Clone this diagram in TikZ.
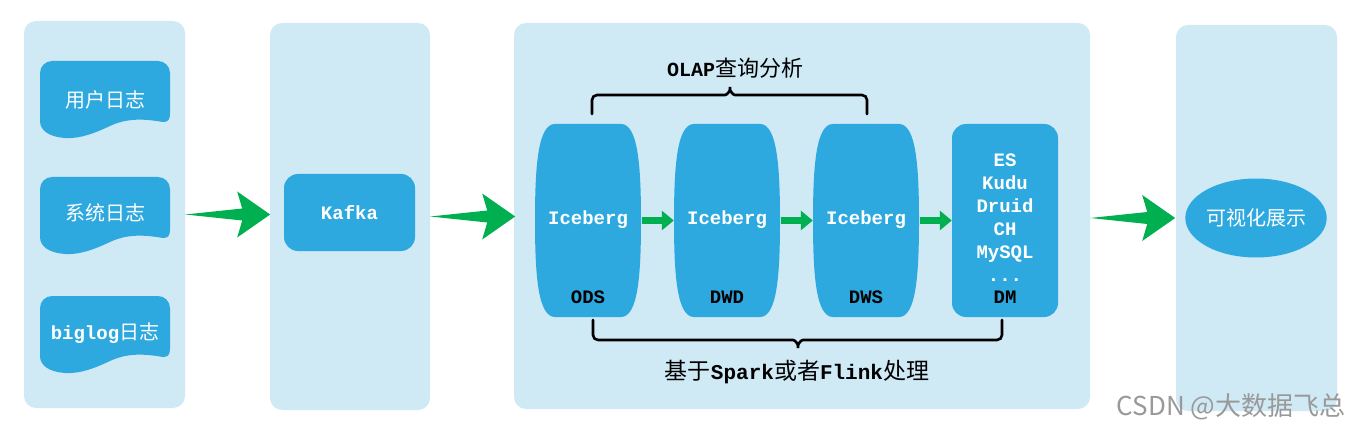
\documentclass[tikz,border=0pt]{standalone}
\usepackage{fontspec}
\usetikzlibrary{shapes.geometric,arrows.meta,calc}
\newfontfamily\cjk{Noto Sans CJK SC}
\newfontfamily\mono{Liberation Mono}
\definecolor{panelbg}{HTML}{CFE9F5}
\definecolor{nodeblue}{HTML}{2EA9E0}
\definecolor{arrgreen}{HTML}{00B050}
\begin{document}
\begin{tikzpicture}[x=1pt,y=1pt,
 panel/.style={rectangle, rounded corners=12pt, fill=panelbg, inner sep=0pt},
 labelw/.style={text=white, font=\mono\bfseries\fontsize{19}{23}\selectfont, inner sep=0pt},
 cjkw/.style={text=white, font=\cjk\fontsize{20}{24}\selectfont, inner sep=0pt},
 layerlab/.style={text=black, font=\mono\bfseries\fontsize{19}{23}\selectfont, inner sep=0pt},
 layer/.style={rectangle, minimum width=106pt, minimum height=193pt, inner sep=0pt},
 smallarr/.style={arrgreen, line width=7pt, -{Triangle[length=12pt,width=19pt]}, shorten <=1pt},
 brace/.style={line width=2.6pt, rounded corners=5pt, line cap=round},
 pics/docshape/.style={code={\fill[nodeblue] (12,0) -- (118,0) arc[start angle=90,end angle=0,radius=12pt] -- (130,-52) .. controls (130,-59) and (128,-61) .. (123,-61) .. controls (100,-57) and (85,-58) .. (70,-65) .. controls (55,-72) and (40,-78) .. (25,-77) .. controls (10,-76) and (0,-70) .. (0,-60) -- (0,-12) arc[start angle=180,end angle=90,radius=12pt] -- cycle;}},
 pics/barrel/.style={code={\fill[nodeblue] (-33,96.5) -- (33,96.5) .. controls (50,96.5) and (53,55) .. (53,0) .. controls (53,-55) and (50,-96.5) .. (33,-96.5) -- (-33,-96.5) .. controls (-50,-96.5) and (-53,-55) .. (-53,0) .. controls (-53,55) and (-50,96.5) .. (-33,96.5) -- cycle;}},
 pics/bigarrow/.style={code={\fill[arrgreen] (0,0) -- (57,6) -- (52,23) -- (85,0) -- (52,-23) -- (57,-6) -- cycle;}},
]
\useasboundingbox (0,0) rectangle (1352,429);
% panels
\node[panel, minimum width=161pt, minimum height=387pt] (p1) at (104.5,214.5) {};
\node[panel, minimum width=160pt, minimum height=387pt] (p2) at (350,212.5) {};
\node[panel, minimum width=576pt, minimum height=386pt] (p3) at (802,213) {};
\node[panel, minimum width=161pt, minimum height=386pt] (p4) at (1256.5,211) {};
% sources
\pic at (40,368) {docshape};
\node[cjkw] (d1) at (105,329) {用户日志};
\pic at (40,252) {docshape};
\node[cjkw] (d2) at (105,216) {系统日志};
\pic at (40,133) {docshape};
\node[text=white, inner sep=0pt] (d3) at (105,96) {{\mono\bfseries\fontsize{19}{23}\selectfont biglog}{\cjk\fontsize{20}{24}\selectfont 日志}};
% kafka
\node[rectangle, rounded corners=14pt, fill=nodeblue, minimum width=131pt, minimum height=77pt, labelw] (kafka) at (349.5,216.5) {Kafka};
% layers
\pic at (588,208.5) {barrel};
\node[layer] (ods) at (588,208.5) {};
\node[labelw] (odsice) at (588,209) {Iceberg};
\node[layerlab] (odslab) at (588,132) {ODS};
\pic at (727,208.5) {barrel};
\node[layer] (dwd) at (727,208.5) {};
\node[labelw] (dwdice) at (727,209) {Iceberg};
\node[layerlab] (dwdlab) at (727,132) {DWD};
\pic at (866,208.5) {barrel};
\node[layer] (dws) at (866,208.5) {};
\node[labelw] (dwsice) at (866,209) {Iceberg};
\node[layerlab] (dwslab) at (866,132) {DWS};
\node[layer, fill=nodeblue, rounded corners=14pt] (dm) at (1005,208.5) {};
\node[labelw, align=center] (dmlist) at (1005,211) {ES\\Kudu\\Druid\\CH\\MySQL\\...};
\node[layerlab] (dmlab) at (1005,132) {DM};
\draw[smallarr] (ods.east) -- (dwd.west);
\draw[smallarr] (dwd.east) -- (dws.west);
\draw[smallarr] (dws.east) -- (dm.west);
% braces
\draw[brace] (592,315) -- (592,334) -- (720,334) .. controls (727,334) and (730,338) .. (730,345) .. controls (730,338) and (733,334) .. (740,334) -- (867,334) -- (867,315);
\draw[brace] (593,109) -- (593,89) -- (788,89) .. controls (795,89) and (798,85) .. (798,78) .. controls (798,85) and (801,89) .. (808,89) -- (1002,89) -- (1002,109);
\node[inner sep=0pt] (olap) at (735,361) {{\mono\bfseries\fontsize{20}{24}\selectfont OLAP}{\cjk\fontsize{22}{26}\selectfont 查询分析}};
\node[inner sep=0pt] (proc) at (797,57) {{\cjk\fontsize{23}{27}\selectfont 基于}{\mono\bfseries\fontsize{21}{25}\selectfont Spark}{\cjk\fontsize{23}{27}\selectfont 或者}{\mono\bfseries\fontsize{21}{25}\selectfont Flink}{\cjk\fontsize{23}{27}\selectfont 处理}};
% visual
\node[ellipse, fill=nodeblue, minimum width=132pt, minimum height=79pt, cjkw] (vis) at (1256,211) {可视化展示};
% big arrows
\pic at (p1.east) {bigarrow};
\pic at (p2.east) {bigarrow};
\pic at ([yshift=-2pt]p3.east) {bigarrow};
% watermark
\node[text=black!40, font=\cjk\fontsize{26}{30}\selectfont, inner sep=0pt] (wm) at (1231,22) {CSDN @大数据飞总};
\end{tikzpicture}
\end{document}
